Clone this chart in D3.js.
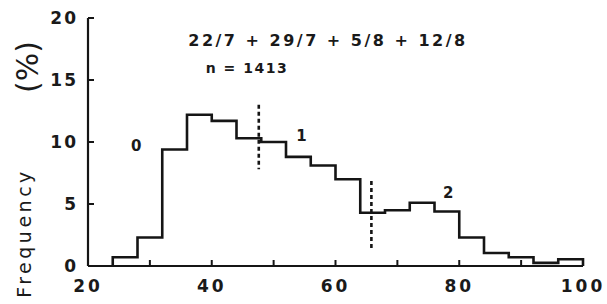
<!DOCTYPE html>
<html>
<head>
  <meta charset="utf-8">
  <title>Frequency histogram</title>
  <script src="https://d3js.org/d3.v7.min.js"></script>
  <style>
    body { margin: 0; background: #fff; }
    svg text { font-family: 'DejaVu Sans', sans-serif; fill: #1a1a1a; }
  </style>
</head>
<body>
  <div id="chart"></div>
  <script>
    // bin edges (left edge of each 4-unit bin) and frequencies in %
    var binStarts = [24, 28, 32, 36, 40, 44, 48, 52, 56, 60, 64, 68, 72, 76, 80, 84, 88, 92, 96];
    var binWidth = 4;
    var freqs = [0.7, 2.3, 9.4, 12.2, 11.7, 10.3, 10.0, 8.8, 8.1, 7.0, 4.3, 4.5, 5.1, 4.4, 2.3, 1.05, 0.7, 0.25, 0.55];

    var xTicks = [20, 40, 60, 80, 100];
    var xMinor = [30, 40, 50, 60, 70, 80, 90];
    var yTicks = [0, 5, 10, 15, 20];

    // dashed class boundaries: x position and vertical extent (%)
    var boundX = [47.6, 65.8];
    var boundTop = [13.0, 6.85];
    var boundBottom = [7.8, 1.4];

    // class labels
    var classNames = ["0", "1", "2"];
    var classX = [27.8, 54.5, 78.2];
    var classY = [9.3, 10.1, 5.5];

    var dateLine = "22/7 + 29/7 + 5/8 + 12/8";
    var countLine = "n = 1413";

    var W = 607, H = 304;
    var svg = d3.select("#chart").append("svg")
      .attr("width", W).attr("height", H);

    var x = d3.scaleLinear().domain([20, 100]).range([88, 583]);
    var y = d3.scaleLinear().domain([0, 20]).range([266, 18]);

    var ink = "#151515";

    // axes
    svg.append("line")
      .attr("x1", x(20)).attr("x2", x(20))
      .attr("y1", y(20)).attr("y2", y(0))
      .attr("stroke", ink).attr("stroke-width", 2.2);
    svg.append("line")
      .attr("x1", x(20)).attr("x2", x(100))
      .attr("y1", y(0)).attr("y2", y(0))
      .attr("stroke", ink).attr("stroke-width", 2.2);

    svg.selectAll(".ytick")
      .data(yTicks.filter(d => d > 0))
      .enter().append("line")
      .attr("x1", x(20)).attr("x2", x(20) + 6)
      .attr("y1", d => y(d)).attr("y2", d => y(d))
      .attr("stroke", ink).attr("stroke-width", 2);

    svg.selectAll(".xtick")
      .data(xMinor)
      .enter().append("line")
      .attr("x1", d => x(d)).attr("x2", d => x(d))
      .attr("y1", y(0)).attr("y2", y(0) - 6)
      .attr("stroke", ink).attr("stroke-width", 2);

    svg.selectAll(".ylab")
      .data(yTicks)
      .enter().append("text")
      .attr("x", x(20) - 10)
      .attr("y", d => y(d) + 6)
      .attr("text-anchor", "end")
      .attr("font-size", 17)
      .attr("font-weight", "bold")
      .attr("letter-spacing", 2)
      .text(d => d);

    svg.selectAll(".xlab")
      .data(xTicks)
      .enter().append("text")
      .attr("x", d => x(d))
      .attr("y", y(0) + 26)
      .attr("text-anchor", "middle")
      .attr("font-size", 17)
      .attr("font-weight", "bold")
      .attr("letter-spacing", 3)
      .text(d => d);

    // axis title
    svg.append("text")
      .attr("transform", "translate(31," + 233 + ") rotate(-90)")
      .attr("text-anchor", "middle")
      .attr("font-size", 19)
      .attr("letter-spacing", 3.5)
      .text("Frequency");
    svg.append("text")
      .attr("transform", "translate(38," + 67 + ") rotate(-90)")
      .attr("text-anchor", "middle")
      .attr("font-size", 30)
      .text("(%)");

    // histogram outline as a step line
    var pts = [[binStarts[0], 0]];
    binStarts.forEach(function (b, i) {
      pts.push([b, freqs[i]]);
      pts.push([b + binWidth, freqs[i]]);
    });
    pts.push([binStarts[binStarts.length - 1] + binWidth, 0]);

    svg.append("path")
      .datum(pts)
      .attr("fill", "none")
      .attr("stroke", ink)
      .attr("stroke-width", 2.6)
      .attr("stroke-linejoin", "miter")
      .attr("d", d3.line().x(d => x(d[0])).y(d => y(d[1])));

    // dashed class boundaries
    svg.selectAll(".bound")
      .data(boundX)
      .enter().append("line")
      .attr("x1", d => x(d)).attr("x2", d => x(d))
      .attr("y1", (d, i) => y(boundTop[i]))
      .attr("y2", (d, i) => y(boundBottom[i]))
      .attr("stroke", ink)
      .attr("stroke-width", 2.6)
      .attr("stroke-dasharray", "4,3");

    svg.selectAll(".cls")
      .data(classNames)
      .enter().append("text")
      .attr("x", (d, i) => x(classX[i]))
      .attr("y", (d, i) => y(classY[i]))
      .attr("text-anchor", "middle")
      .attr("font-size", 15)
      .attr("font-weight", "bold")
      .text(d => d);

    svg.append("text")
      .attr("x", 328).attr("y", 46)
      .attr("text-anchor", "middle")
      .attr("font-size", 16)
      .attr("font-weight", "bold")
      .attr("letter-spacing", 2.5)
      .text(dateLine);
    svg.append("text")
      .attr("x", 247).attr("y", 73)
      .attr("text-anchor", "middle")
      .attr("font-size", 14)
      .attr("font-weight", "bold")
      .attr("letter-spacing", 1.5)
      .text(countLine);
  </script>
</body>
</html>
